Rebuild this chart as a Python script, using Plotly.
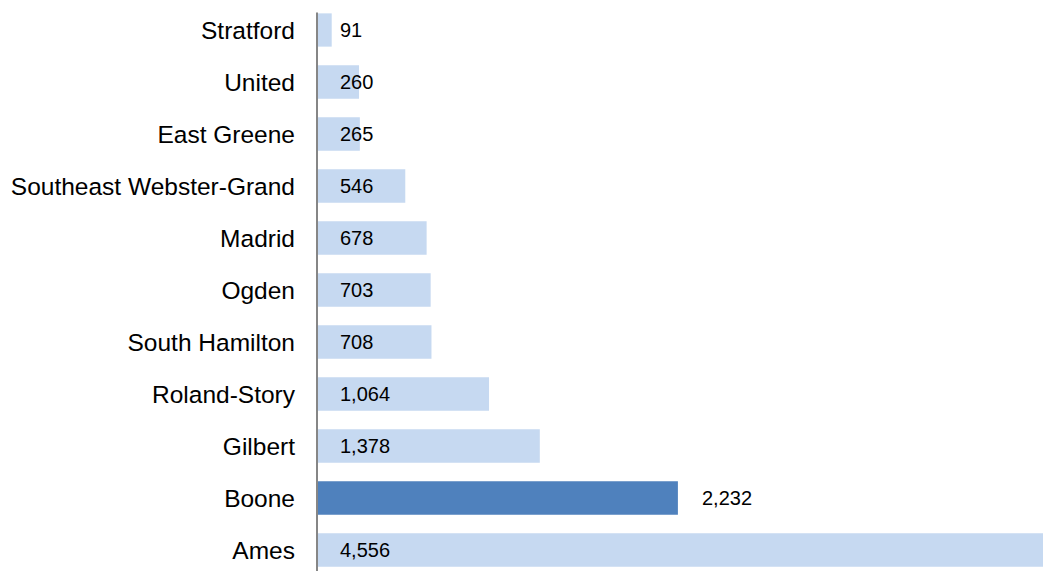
import plotly.graph_objects as go

categories = ["Ames", "Boone", "Gilbert", "Roland-Story", "South Hamilton", "Ogden",
              "Madrid", "Southeast Webster-Grand", "East Greene", "United", "Stratford"]
values = [4556, 2232, 1378, 1064, 708, 703, 678, 546, 265, 260, 91]
highlight = "Boone"

light = "#C6D9F1"
dark = "#4F81BD"
colors = [dark if c == highlight else light for c in categories]

fig = go.Figure(go.Bar(
    x=values, y=categories, orientation="h",
    marker=dict(color=colors, line=dict(width=0)),
    width=0.64, hoverinfo="skip",
))

label_font = dict(size=20, color="#000000", family="Liberation Sans")
annotations = []
for c, v in zip(categories, values):
    if c == highlight:
        annotations.append(dict(x=v, y=c, xref="x", yref="y", text=f"{v:,}",
                                showarrow=False, xanchor="left", xshift=22, font=label_font))
    else:
        annotations.append(dict(x=0, y=c, xref="x", yref="y", text=f"{v:,}",
                                showarrow=False, xanchor="left", xshift=21, font=label_font))

fig.update_layout(
    width=1043, height=571,
    margin=dict(l=317, r=0, t=4, b=0),
    paper_bgcolor="white", plot_bgcolor="white",
    showlegend=False,
    annotations=annotations,
    xaxis=dict(range=[0, 4490], visible=False, fixedrange=True),
    yaxis=dict(type="category", range=[-0.404, 10.5], showgrid=False, zeroline=False,
               showline=False, ticks="", ticklabelstandoff=21, fixedrange=True,
               tickfont=dict(size=24.5, color="#000000", family="Liberation Sans")),
    shapes=[dict(type="line", xref="paper", yref="paper", x0=0, x1=0, y0=0, y1=0.985,
                 line=dict(color="#868686", width=2))],
)

fig.write_html("out.html", config={"displayModeBar": False},
               post_script="document.body.style.margin='0';document.body.style.overflow='hidden';")
